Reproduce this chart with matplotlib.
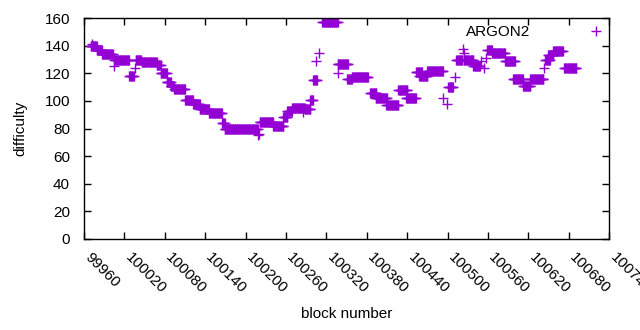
import numpy as np
import matplotlib
matplotlib.use("Agg")
import matplotlib.pyplot as plt
import matplotlib.transforms as mtransforms

# difficulty plateaus: first block, last block, value
seg_start = [99970, 99979, 99987, 100005, 100027, 100037, 100046, 100068, 100074,
             100083, 100089, 100094, 100110, 100122, 100132, 100146, 100165, 100169,
             100221, 100241, 100256, 100262, 100269, 100288, 100296, 100300, 100314,
             100337, 100351, 100358, 100385, 100393, 100409, 100427, 100438, 100453,
             100458, 100470, 100501, 100513, 100524, 100538, 100559, 100566, 100585,
             100597, 100612, 100623, 100645, 100649, 100657, 100673]
seg_end = [99979, 99987, 100003, 100027, 100034, 100045, 100068, 100074, 100083,
           100089, 100094, 100110, 100122, 100132, 100146, 100165, 100169, 100218,
           100241, 100256, 100262, 100269, 100288, 100296, 100300, 100306, 100337,
           100352, 100358, 100382, 100394, 100410, 100427, 100440, 100453, 100462,
           100470, 100493, 100508, 100522, 100538, 100548, 100566, 100585, 100600,
           100612, 100623, 100642, 100652, 100657, 100671, 100691]
seg_value = [140, 137, 134, 130, 118, 130, 128, 126, 120,
             114, 111, 109, 101, 98, 94, 91, 84, 80,
             85, 82, 88, 93, 95, 94, 101, 115, 157,
             127, 116, 117, 106, 102, 97, 108, 102, 121,
             118, 122, 110, 130, 130, 125, 137, 135, 129,
             116, 111, 116, 130, 133, 136, 124]

# isolated blocks that stand off the plateaus
single_block = [99972, 100005, 100036, 100219, 100220, 100286, 100305, 100309,
                100337, 100493, 100499, 100511, 100523, 100524, 100550, 100554,
                100557, 100643]
single_value = [141, 125, 124, 75, 76, 92, 129, 135,
                120, 102, 98, 117, 138, 135, 129, 124,
                131, 124]

xticks = list(range(99960, 100741, 60))

blocks = []
diffs = []
for s, e, v in zip(seg_start, seg_end, seg_value):
    b = np.arange(s, e + 1)
    blocks.append(b)
    diffs.append(np.full(len(b), v))
blocks.append(np.array(single_block))
diffs.append(np.array(single_value))
blocks = np.concatenate(blocks)
diffs = np.concatenate(diffs)

plt.rcParams["font.family"] = ["Liberation Sans", "DejaVu Sans"]
plt.rcParams["font.size"] = 11

fig = plt.figure(figsize=(6.4, 3.3), dpi=100)
ax = fig.add_axes([0.131, 0.276, 0.821, 0.669])
ax.plot(blocks, diffs, linestyle="none", marker="+", markersize=7,
        markeredgewidth=1, color="#9400d3", label="ARGON2")

ax.set_xlim(99960, 100740)
ax.set_ylim(0, 160)
ax.set_yticks(range(0, 161, 20))
ax.set_xticks(xticks)
ax.set_xticklabels([str(t) for t in xticks], rotation=-45,
                   ha="left", va="top", rotation_mode="anchor")
ax.tick_params(direction="in", length=5, top=True, right=True, width=1)
ax.tick_params(axis="y", pad=10)
ax.tick_params(axis="x", pad=8)
shift = mtransforms.ScaledTranslation(8 / 100, 0, fig.dpi_scale_trans)
for lab in ax.get_xticklabels():
    lab.set_transform(lab.get_transform() + shift)
for sp in ax.spines.values():
    sp.set_linewidth(1)
ax.set_xlabel("block number", labelpad=8)
ax.set_ylabel("difficulty", labelpad=12)

ax.legend(loc="center right", bbox_to_anchor=(1.0, 0.936), frameon=False,
          markerfirst=False, borderpad=0, borderaxespad=0, handlelength=1.8,
          handletextpad=3.4, fontsize=11)

fig.savefig("out.png", dpi=100)
